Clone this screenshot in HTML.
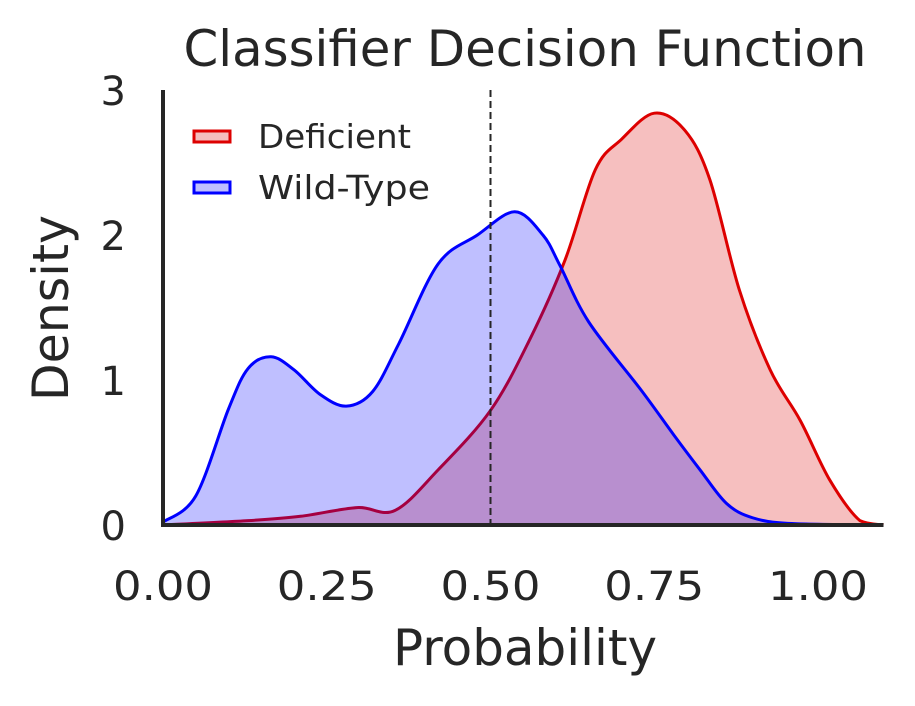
<!DOCTYPE html>
<html><head><meta charset="utf-8"><style>
html,body{margin:0;padding:0;background:#fff;}
svg{display:block;font-family:"DejaVu Sans","Liberation Sans",sans-serif;}
</style></head><body>
<svg id="chart" width="915" height="706" viewBox="0 0 915 706">
<text x="525" y="66" font-size="50" fill="#262626" text-anchor="middle" textLength="683" lengthAdjust="spacingAndGlyphs">Classifier Decision Function</text>
<g id="plot"></g>
<g id="axes"></g>
<text x="525" y="665" font-size="50" fill="#262626" text-anchor="middle" textLength="264" lengthAdjust="spacingAndGlyphs">Probability</text>
<text transform="translate(68,308) rotate(-90)" font-size="50" fill="#262626" text-anchor="middle" textLength="186" lengthAdjust="spacingAndGlyphs">Density</text>
<g>
<rect x="194" y="131" width="36" height="11" fill="#f4bdbd" stroke="#dd0000" stroke-width="3"/>
<text x="258" y="148" font-size="33" fill="#262626" textLength="153" lengthAdjust="spacingAndGlyphs">Deficient</text>
<rect x="194" y="182" width="36" height="11" fill="#bfbfff" stroke="#0000ff" stroke-width="3"/>
<text x="258" y="199" font-size="33" fill="#262626" textLength="172" lengthAdjust="spacingAndGlyphs">Wild-Type</text>
</g>
</svg>
<script>
const xTicks=[0,0.25,0.5,0.75,1.0];
const xTickLabels=["0.00","0.25","0.50","0.75","1.00"];
const yTicks=[0,1,2,3];
const yTickLabels=["0","1","2","3"];
const threshold=0.5;
const defX=[0,0.13,0.21,0.296,0.354,0.42,0.5,0.56,0.614,0.66,0.70,0.75,0.797,0.835,0.88,0.927,0.973,1.018,1.064,1.1];
const defY=[0,0.03,0.06,0.12,0.1,0.38,0.79,1.28,1.83,2.45,2.66,2.84,2.72,2.38,1.62,1.07,0.72,0.31,0.03,0];
const wtX=[0,0.05,0.1,0.13,0.165,0.2,0.24,0.28,0.32,0.36,0.42,0.48,0.537,0.58,0.606,0.65,0.73,0.78,0.82,0.86,0.9,0.96,1.1];
const wtY=[0.02,0.2,0.8,1.08,1.16,1.07,0.9,0.82,0.92,1.25,1.8,2.0,2.16,2.0,1.79,1.4,0.93,0.62,0.38,0.15,0.05,0.01,0];

const X0=163,XS=655,Y0=525,YS=145,XMAX=1.1;
const sx=v=>X0+v*XS, sy=v=>Y0-v*YS;
const NS="http://www.w3.org/2000/svg";
const plot=document.getElementById('plot'),axes=document.getElementById('axes');
function mk(tag,attrs,parent){const e=document.createElementNS(NS,tag);for(const k in attrs)e.setAttribute(k,attrs[k]);parent.appendChild(e);return e;}
function smooth(xs,ys){
  const p=xs.map((x,i)=>[sx(x),sy(ys[i])]);
  let d="M"+p[0][0]+","+p[0][1];
  for(let i=0;i<p.length-1;i++){
    const a=p[Math.max(0,i-1)],b=p[i],c=p[i+1],e=p[Math.min(p.length-1,i+2)];
    const c1=[b[0]+(c[0]-a[0])/6,Math.min(Y0,b[1]+(c[1]-a[1])/6)];
    const c2=[c[0]-(e[0]-b[0])/6,Math.min(Y0,c[1]-(e[1]-b[1])/6)];
    d+=" C"+c1[0]+","+c1[1]+" "+c2[0]+","+c2[1]+" "+c[0]+","+c[1];
  }
  return {d,p};
}
function series(xs,ys,col,name){
  const s=smooth(xs,ys);
  const f=mk('path',{d:s.d+" L"+s.p[s.p.length-1][0]+","+Y0+" L"+s.p[0][0]+","+Y0+" Z",fill:col,'fill-opacity':0.25,stroke:'none'},plot);
  
  
  const l=mk('path',{d:s.d,fill:'none',stroke:col,'stroke-width':3},plot);
  
  
}
series(defX,defY,'#dd0000','deficient');
series(wtX,wtY,'#0000ff','wild-type');
const th=mk('line',{x1:sx(threshold),x2:sx(threshold),y1:sy(3),y2:Y0,stroke:'#262626','stroke-width':2,'stroke-dasharray':'7,4'},plot);


const ya=mk('line',{x1:X0,x2:X0,y1:sy(3),y2:Y0+2,stroke:'#262626','stroke-width':4},axes);


const xa=mk('line',{x1:X0-2,x2:sx(XMAX),y1:Y0,y2:Y0,stroke:'#262626','stroke-width':4},axes);


xTicks.forEach((t,i)=>{
  const e=mk('text',{x:sx(t),y:600,'font-size':40,fill:'#262626','text-anchor':'middle',textLength:100,lengthAdjust:'spacingAndGlyphs'},axes);
  e.textContent=xTickLabels[i];
  
  
});
yTicks.forEach((t,i)=>{
  const e=mk('text',{x:126,y:sy(t)+15,'font-size':40,fill:'#262626','text-anchor':'end'},axes);
  e.textContent=yTickLabels[i];
  
  
});
</script>
</body></html>
